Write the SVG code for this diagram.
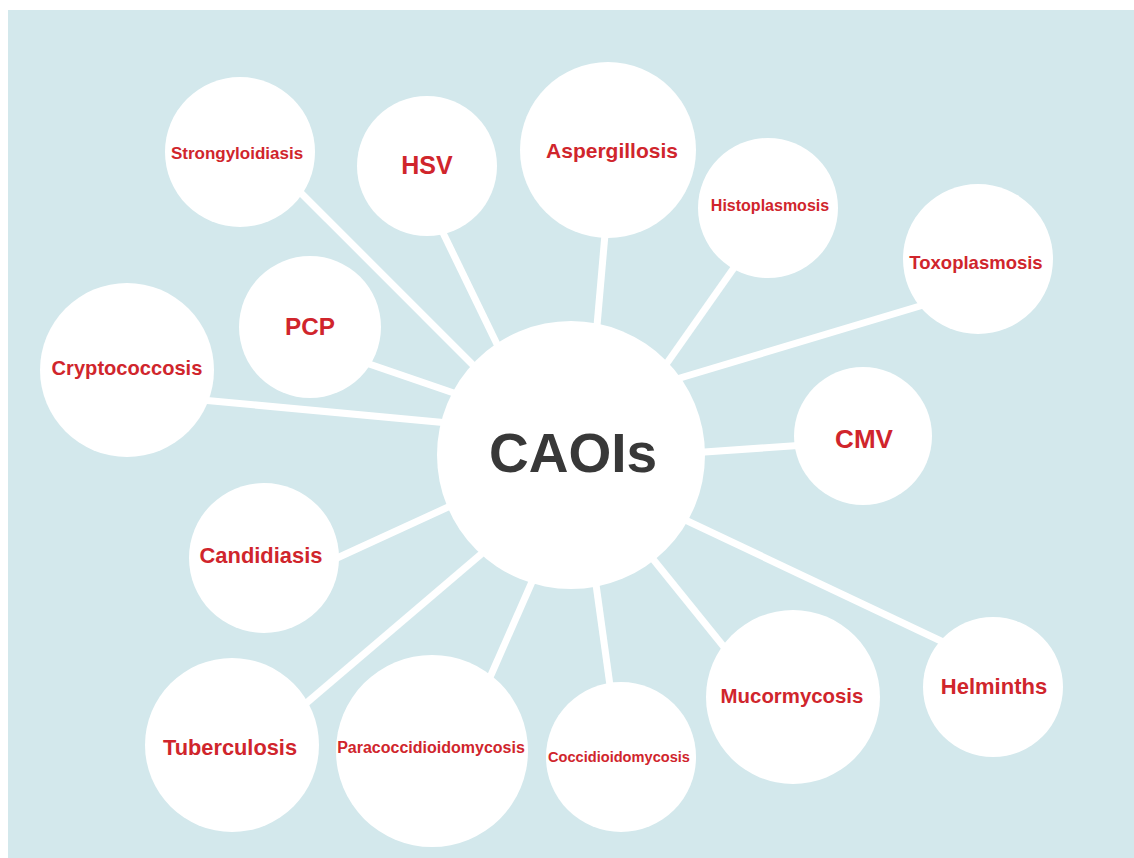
<svg xmlns="http://www.w3.org/2000/svg" width="1134" height="858" viewBox="0 0 1134 858">
  <style>
    .bg { fill: #d3e8ec; }
    .bubble { fill: #ffffff; }
    .link { stroke: #ffffff; stroke-width: 7; stroke-linecap: butt; fill: none; }
    .label { font-family: "Liberation Sans", Arial, sans-serif; font-weight: bold; fill: #d0252c; text-anchor: middle; }
    .hub { font-family: "Liberation Sans", Arial, sans-serif; font-weight: bold; fill: #383838; text-anchor: middle; }
  </style>

  <!-- page -->
  <rect x="0" y="0" width="1134" height="858" fill="#ffffff"/>
  <rect class="bg" x="8" y="10" width="1126" height="848"/>

  <!-- spokes joining each infection to the hub -->
  <g id="connectors">
    <line class="link" x1="290" y1="182" x2="490" y2="382"/>
    <line class="link" x1="430" y1="206" x2="510" y2="371"/>
    <line class="link" x1="608" y1="200" x2="594" y2="360"/>
    <line class="link" x1="750" y1="245" x2="660" y2="373"/>
    <line class="link" x1="960" y1="294" x2="650" y2="387"/>
    <line class="link" x1="690" y1="453" x2="820" y2="444"/>
    <line class="link" x1="660" y1="508" x2="960" y2="650"/>
    <line class="link" x1="640" y1="543" x2="745" y2="673"/>
    <line class="link" x1="594" y1="570" x2="612" y2="700"/>
    <line class="link" x1="535" y1="575" x2="480" y2="700"/>
    <line class="link" x1="500" y1="538" x2="290" y2="717"/>
    <line class="link" x1="470" y1="497" x2="300" y2="575"/>
    <line class="link" x1="470" y1="425" x2="180" y2="398"/>
    <line class="link" x1="480" y1="402" x2="340" y2="354"/>
  </g>

  <g id="caois">
    <circle class="bubble" cx="571" cy="455" r="134"/>
    <text class="hub" x="573" y="472" font-size="55">CAOIs</text>
  </g>

  <g id="strongyloidiasis">
    <circle class="bubble" cx="240" cy="152" r="75"/>
    <text class="label" x="237" y="159" font-size="17">Strongyloidiasis</text>
  </g>

  <g id="hsv">
    <circle class="bubble" cx="427" cy="166" r="70"/>
    <text class="label" x="427" y="174" font-size="25">HSV</text>
  </g>

  <g id="aspergillosis">
    <circle class="bubble" cx="608" cy="150" r="88"/>
    <text class="label" x="612" y="158" font-size="21">Aspergillosis</text>
  </g>

  <g id="histoplasmosis">
    <circle class="bubble" cx="768" cy="208" r="70"/>
    <text class="label" x="770" y="211" font-size="16">Histoplasmosis</text>
  </g>

  <g id="toxoplasmosis">
    <circle class="bubble" cx="978" cy="259" r="75"/>
    <text class="label" x="976" y="269" font-size="18.5">Toxoplasmosis</text>
  </g>

  <g id="cmv">
    <circle class="bubble" cx="863" cy="436" r="69"/>
    <text class="label" x="864" y="448" font-size="26">CMV</text>
  </g>

  <g id="helminths">
    <circle class="bubble" cx="993" cy="687" r="70"/>
    <text class="label" x="994" y="694" font-size="22">Helminths</text>
  </g>

  <g id="mucormycosis">
    <circle class="bubble" cx="793" cy="697" r="87"/>
    <text class="label" x="792" y="703" font-size="20.4">Mucormycosis</text>
  </g>

  <g id="coccidioidomycosis">
    <circle class="bubble" cx="621" cy="757" r="75"/>
    <text class="label" x="619" y="762" font-size="14.6">Coccidioidomycosis</text>
  </g>

  <g id="paracoccidioidomycosis">
    <circle class="bubble" cx="432" cy="751" r="96"/>
    <text class="label" x="431" y="753" font-size="16">Paracoccidioidomycosis</text>
  </g>

  <g id="tuberculosis">
    <circle class="bubble" cx="232" cy="745" r="87"/>
    <text class="label" x="230" y="755" font-size="21.8">Tuberculosis</text>
  </g>

  <g id="candidiasis">
    <circle class="bubble" cx="264" cy="558" r="75"/>
    <text class="label" x="261" y="563" font-size="21.9">Candidiasis</text>
  </g>

  <g id="cryptococcosis">
    <circle class="bubble" cx="127" cy="370" r="87"/>
    <text class="label" x="127" y="375" font-size="20.1">Cryptococcosis</text>
  </g>

  <g id="pcp">
    <circle class="bubble" cx="310" cy="327" r="71"/>
    <text class="label" x="310" y="335" font-size="24.3">PCP</text>
  </g>
</svg>
